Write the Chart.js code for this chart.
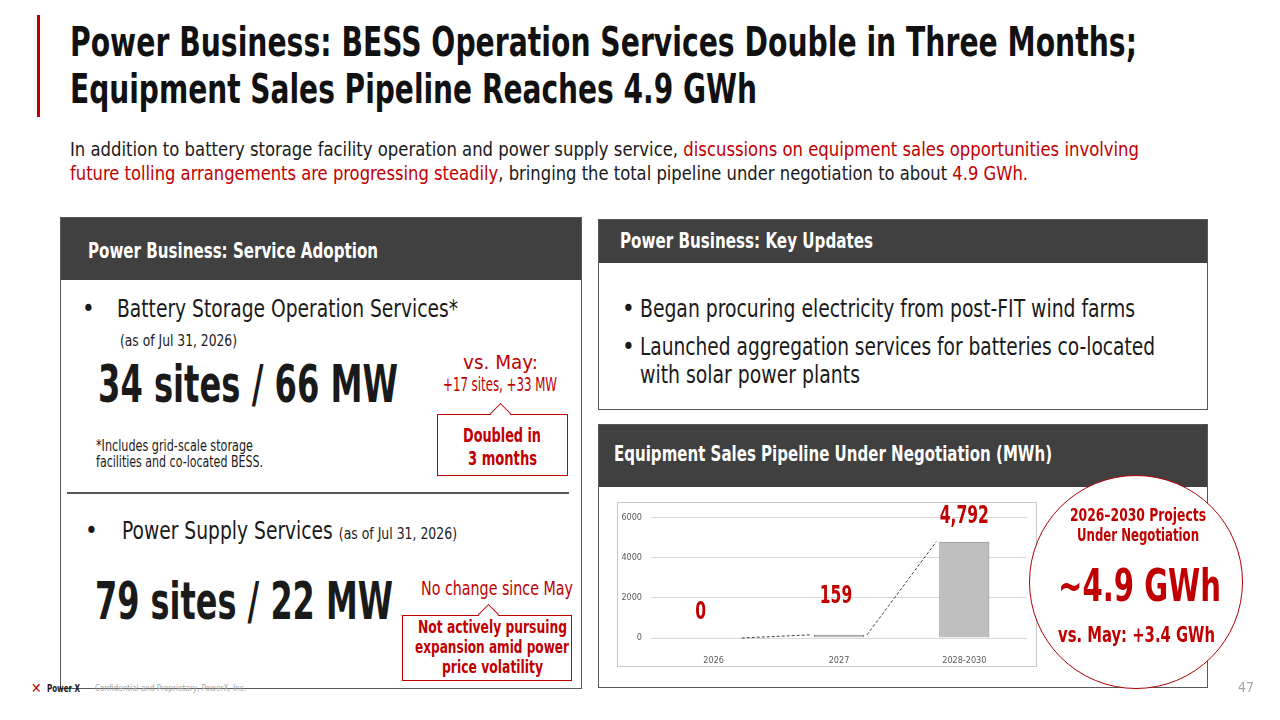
<!DOCTYPE html>
<html>
<head>
<meta charset="utf-8">
<script src="https://cdn.jsdelivr.net/npm/chart.js@4.4.1/dist/chart.umd.min.js"></script>
<style>
  body { margin: 0; background: #fff; }
  #slide { position: relative; width: 1280px; height: 720px; overflow: hidden; background: #fff;
    font-family: "Liberation Sans Narrow", "DejaVu Sans Condensed", "Roboto Condensed", Roboto, sans-serif; color: #1a1a1a; }
  .t { position: absolute; white-space: nowrap; line-height: 1; }
  .b { font-weight: bold; }
  .red { color: #c00000; }
  .w { color: #fff; }
  .panel { position: absolute; border: 1px solid #595959; background: #fff; box-sizing: border-box; }
  .head { position: absolute; left: 0; top: 0; right: 0; background: #404040; }
  .box { position: absolute; border: 1.5px solid #c00000; background: #fff; box-sizing: border-box; }
  .ptr { position: absolute; width: 14px; height: 14px; background: #fff; border-left: 1.5px solid #c00000; border-top: 1.5px solid #c00000; transform: rotate(45deg); }
</style>
</head>
<body>
<div id="slide">
  <div style="position:absolute;left:37px;top:15px;width:3px;height:102px;background:#c00000"></div>
  <div class="t b" data-w="1067" style="left:70px;top:22px;font-size:41px;color:#111;">Power Business: BESS Operation Services Double in Three Months;</div>
  <div class="t b" data-w="687" style="left:70px;top:69px;font-size:41px;color:#111;">Equipment Sales Pipeline Reaches 4.9 GWh</div>
  <div class="t" data-w="1069" style="left:70px;top:139px;font-size:20px;">In addition to battery storage facility operation and power supply service, <span class="red">discussions on equipment sales opportunities involving</span></div>
  <div class="t" data-w="958" style="left:70px;top:163px;font-size:20px;"><span class="red">future tolling arrangements are progressing steadily</span>, bringing the total pipeline under negotiation to about <span class="red">4.9 GWh.</span></div>

  <!-- left panel -->
  <div class="panel" style="left:60px;top:217px;width:522px;height:472px;">
    <div class="head" style="height:62px;"></div>
  </div>
  <div class="t b w" data-w="290" style="left:88px;top:240px;font-size:22px;">Power Business: Service Adoption</div>
  <div class="t" style="left:82px;top:297px;font-size:24px;">•</div>
  <div class="t" data-w="341" style="left:117px;top:297px;font-size:24px;">Battery Storage Operation Services*</div>
  <div class="t" data-w="117" style="left:120px;top:333px;font-size:16px;">(as of Jul 31, 2026)</div>
  <div class="t b" data-w="300" style="left:98px;top:358px;font-size:52px;">34 sites / 66 MW</div>
  <div class="t red" data-w="75" data-cx="500" style="top:352px;font-size:20px;">vs. May:</div>
  <div class="t red" data-w="114" data-cx="500" style="top:374px;font-size:20px;">+17 sites, +33 MW</div>
  <div class="box" style="left:437px;top:414px;width:131px;height:62px;"></div>
  <div class="ptr" style="left:493px;top:406px;"></div>
  <div class="t b red" data-w="78" data-cx="502" style="top:425px;font-size:20px;">Doubled in</div>
  <div class="t b red" data-w="69" data-cx="502" style="top:448px;font-size:20px;">3 months</div>
  <div class="t" data-w="157" style="left:96px;top:439px;font-size:15px;">*Includes grid-scale storage</div>
  <div class="t" data-w="167" style="left:96px;top:455px;font-size:15px;">facilities and co-located BESS.</div>
  <div style="position:absolute;left:67px;top:492px;width:502px;height:2px;background:#595959"></div>
  <div class="t" style="left:85px;top:519px;font-size:24px;">•</div>
  <div class="t" data-w="335" style="left:122px;top:519px;font-size:24px;">Power Supply Services <span style="font-size:16px">(as of Jul 31, 2026)</span></div>
  <div class="t b" data-w="298" style="left:95px;top:575px;font-size:52px;">79 sites / 22 MW</div>
  <div class="t red" data-w="152" style="left:421px;top:579px;font-size:19px;">No change since May</div>
  <div class="box" style="left:402px;top:615px;width:170px;height:66px;"></div>
  <div class="ptr" style="left:481px;top:607px;"></div>
  <div class="t b red" data-w="149" data-cx="492" style="top:618px;font-size:18px;">Not actively pursuing</div>
  <div class="t b red" data-w="154" data-cx="492" style="top:638px;font-size:18px;">expansion amid power</div>
  <div class="t b red" data-w="101" data-cx="492" style="top:658px;font-size:18px;">price volatility</div>

  <!-- right top panel -->
  <div class="panel" style="left:598px;top:219px;width:610px;height:191px;">
    <div class="head" style="height:43px;"></div>
  </div>
  <div class="t b w" data-w="253" style="left:620px;top:230px;font-size:22px;">Power Business: Key Updates</div>
  <div class="t" style="left:622px;top:297px;font-size:24px;">•</div>
  <div class="t" data-w="495" style="left:640px;top:297px;font-size:24px;">Began procuring electricity from post-FIT wind farms</div>
  <div class="t" style="left:622px;top:335px;font-size:24px;">•</div>
  <div class="t" data-w="515" style="left:640px;top:335px;font-size:24px;">Launched aggregation services for batteries co-located</div>
  <div class="t" data-w="220" style="left:640px;top:363px;font-size:24px;">with solar power plants</div>

  <!-- right bottom panel -->
  <div class="panel" style="left:598px;top:424px;width:610px;height:264px;">
    <div class="head" style="height:62px;"></div>
  </div>
  <div class="t b w" data-w="438" style="left:614px;top:443px;font-size:22px;">Equipment Sales Pipeline Under Negotiation (MWh)</div>
  <div style="position:absolute;left:617px;top:502px;width:420px;height:165px;border:1px solid #c8c8c8;box-sizing:border-box;">
    <canvas id="myChart" width="418" height="163"></canvas>
  </div>

  <!-- circle -->
  <div style="position:absolute;left:1029px;top:475px;width:214px;height:214px;border-radius:50%;border:1.5px solid #b00000;background:#fff;box-sizing:border-box;"></div>
  <div class="t b red" data-w="136" data-cx="1138" style="top:506px;font-size:18px;">2026–2030 Projects</div>
  <div class="t b red" data-w="122" data-cx="1138" style="top:526px;font-size:18px;">Under Negotiation</div>
  <div class="t b red" data-w="163" data-cx="1139" style="top:564px;font-size:44px;">~4.9 GWh</div>
  <div class="t b red" data-w="157" data-cx="1136" style="top:625px;font-size:21px;">vs. May: +3.4 GWh</div>

  <!-- footer -->
  <div class="t b red" style="left:31px;top:681px;font-size:14px;">✕</div>
  <div class="t b" data-w="33" style="left:47px;top:683px;font-size:11px;">Power X</div>
  <div class="t" data-w="151" style="left:95px;top:684px;font-size:9px;color:#a6a6a6;">Confidential and Proprietary, PowerX, Inc.</div>
  <div class="t" style="left:1238px;top:680px;font-size:14px;color:#a6a6a6;">47</div>
</div>

<script>
// chart data
var categories = ['2026', '2027', '2028-2030'];
var pipelineMWh = [0, 159, 4792];
var valueLabels = ['0', '159', '4,792'];
var yTicks = [0, 2000, 4000, 6000];

// squeeze each text line to the width it has on the slide
document.querySelectorAll('[data-w]').forEach(function (el) {
  var natural = el.getBoundingClientRect().width;
  var target = +el.dataset.w;
  el.style.transformOrigin = 'left center';
  el.style.transform = 'scaleX(' + (target / natural) + ')';
  if (el.dataset.cx) el.style.left = (+el.dataset.cx - target / 2) + 'px';
});

var fontStack = '"Liberation Sans Narrow", "DejaVu Sans Condensed", "Roboto Condensed", Roboto, sans-serif';
Chart.defaults.font.family = fontStack;

// dashed connectors between bars + red value labels
var extras = {
  id: 'extras',
  afterDatasetsDraw: function (chart, args, opts) {
    var ctx = chart.ctx;
    var bars = chart.getDatasetMeta(0).data;
    ctx.save();
    ctx.strokeStyle = '#404040';
    ctx.lineWidth = 1;
    ctx.setLineDash([3, 2]);
    for (var i = 0; i < bars.length - 1; i++) {
      var a = bars[i], b = bars[i + 1];
      ctx.beginPath();
      ctx.moveTo(a.x + a.width / 2 + 3, a.y);
      ctx.lineTo(b.x - b.width / 2 - 3, b.y);
      ctx.stroke();
    }
    ctx.setLineDash([]);
    ctx.fillStyle = '#c00000';
    ctx.font = 'bold 24px ' + fontStack;
    ctx.textAlign = 'center';
    ctx.textBaseline = 'middle';
    for (var j = 0; j < bars.length; j++) {
      var off = opts.offsets[j];
      ctx.save();
      ctx.translate(bars[j].x + off[0], bars[j].y + off[1]);
      ctx.scale(0.72, 1);
      ctx.fillText(valueLabels[j], 0, 0);
      ctx.restore();
    }
    ctx.restore();
  }
};

var ctx = document.getElementById('myChart').getContext('2d');
var myChart = new Chart(ctx, {
  type: 'bar',
  data: {
    labels: categories,
    datasets: [{
      data: pipelineMWh,
      backgroundColor: '#bfbfbf',
      borderColor: '#7f7f7f',
      borderWidth: 1,
      barPercentage: 0.8,
      categoryPercentage: 0.5
    }]
  },
  options: {
    responsive: false,
    animation: false,
    layout: { padding: { top: 12, right: 9, left: 0, bottom: 0 } },
    plugins: {
      legend: { display: false },
      tooltip: { enabled: false },
      extras: { offsets: [[-13, -25], [-3, -38], [0, -25]] }
    },
    scales: {
      x: {
        grid: { display: false, drawTicks: false },
        border: { display: false },
        ticks: { color: '#595959', font: { size: 9 }, padding: 17 },
        afterFit: function (s) { s.height = 28; }
      },
      y: {
        min: 0,
        max: 6000,
        afterBuildTicks: function (s) { s.ticks = yTicks.map(function (v) { return { value: v }; }); },
        grid: { color: '#d9d9d9', drawTicks: false },
        border: { display: false },
        ticks: { color: '#595959', font: { size: 9 }, padding: 9, callback: function (v) { return String(v); } },
        afterFit: function (s) { s.width = 33; }
      }
    }
  },
  plugins: [extras]
});
</script>
</body>
</html>
